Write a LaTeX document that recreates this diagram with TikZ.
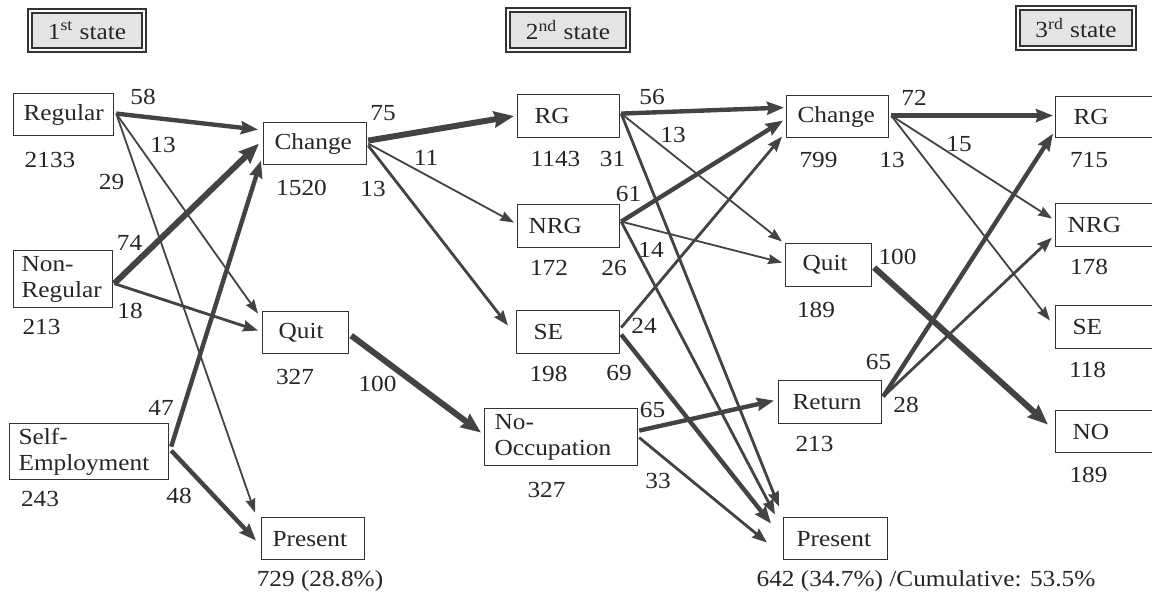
\documentclass[tikz,border=0pt]{standalone}
\usepackage{fontspec}
\setmainfont{Liberation Serif}[FakeStretch=1.1]
\usetikzlibrary{arrows.meta}
\definecolor{ln}{HTML}{434343}
\definecolor{bx}{HTML}{333333}
\definecolor{tfill}{HTML}{E4E4E4}
\begin{document}
\begin{tikzpicture}[x=0.5pt,y=-0.5pt,
 font=\fontsize{11.5}{13}\selectfont,
 box/.style={draw=bx, line width=0.6pt, anchor=north west, inner ysep=0pt, align=left, text=black!85},
 ttl/.style={draw=bx, line width=0.9pt, double=white, double distance=1pt, fill=tfill, inner sep=0pt, text=black!85},
 lbl/.style={inner sep=0pt, text=black!85},
 a1/.style={draw=ln, line width=0.9pt, -{Stealth[length=7pt,width=5pt,inset=0.8pt]}},
 a2/.style={draw=ln, line width=1.4pt, -{Stealth[length=7.5pt,width=5.5pt,inset=0.8pt]}},
 a3/.style={draw=ln, line width=2.2pt, -{Stealth[length=8.5pt,width=6.5pt,inset=1pt]}},
 a4/.style={draw=ln, line width=3pt, -{Stealth[length=10pt,width=8pt,inset=1pt]}},
]
\useasboundingbox (0,0) rectangle (1152,597);
\clip (0,0) rectangle (1152,597);
\fill[white] (0,0) rectangle (1152,597);

% titles
\node[ttl, minimum width=57pt, minimum height=19.7pt] (t1) at (87,30.5) {1\textsuperscript{st} state};
\node[ttl, minimum width=60.2pt, minimum height=20.2pt] (t2) at (568,30) {2\textsuperscript{nd} state};
\node[ttl, minimum width=58.2pt, minimum height=20.2pt] (t3) at (1076,28) {3\textsuperscript{rd} state};

% boxes
\node[box, text width=40pt, inner xsep=5pt, minimum height=21pt] (reg) at (13,93) {Regular};
\node[box, text width=41.5pt, inner xsep=4pt, minimum height=28.5pt] (nreg) at (13,250) {Non-\\Regular};
\node[box, text width=70.5pt, inner xsep=4.5pt, minimum height=28pt] (sem) at (9,423) {Self-\\Employment};
\node[box, text width=40.5pt, inner xsep=5.5pt, minimum height=21pt] (chg1) at (263,122) {Change};
\node[box, text width=27pt, inner xsep=8pt, minimum height=21pt] (quit1) at (262,311) {Quit};
\node[box, text width=40.5pt, inner xsep=5.5pt, minimum height=21pt] (pres1) at (261,517) {Present};
\node[box, text width=34pt, inner xsep=8.5pt, minimum height=21.5pt] (rg2) at (517,94) {RG};
\node[box, text width=40pt, inner xsep=5.5pt, minimum height=21.5pt] (nrg2) at (517,204) {NRG};
\node[box, text width=34.5pt, inner xsep=8.5pt, minimum height=21.5pt] (se2) at (516,310) {SE};
\node[box, text width=66.5pt, inner xsep=5pt, minimum height=28.5pt] (noocc) at (484,408) {No-\\Occupation};
\node[box, text width=40pt, inner xsep=5.5pt, minimum height=21pt] (chg2) at (786,95) {Change};
\node[box, text width=26pt, inner xsep=8.5pt, minimum height=21.5pt] (quit2) at (785,243) {Quit};
\node[box, text width=37.5pt, inner xsep=7pt, minimum height=21.5pt] (ret) at (778,380) {Return};
\node[box, text width=39pt, inner xsep=6.5pt, minimum height=21pt] (pres2) at (783,517) {Present};
\node[box, text width=37pt, inner xsep=9pt, minimum height=20.5pt] (rg3) at (1055,96) {RG};
\node[box, text width=43pt, inner xsep=6pt, minimum height=21.5pt] (nrg3) at (1055,203) {NRG};
\node[box, text width=38pt, inner xsep=8.5pt, minimum height=21.5pt] (se3) at (1055,305) {SE};
\node[box, text width=38pt, inner xsep=8.5pt, minimum height=21pt] (no3) at (1055,410) {NO};

% counts
\node[lbl] (c1) at (50,160) {2133};
\node[lbl] (c2) at (41.5,327.5) {213};
\node[lbl] (c3) at (40,499.5) {243};
\node[lbl] (c4) at (301.5,187.5) {1520};
\node[lbl] (c5) at (295,377.5) {327};
\node[lbl] (c6) at (320,581) {729 (28.8\%)};
\node[lbl] (c7) at (555.5,159.5) {1143};
\node[lbl] (c8) at (549,268) {172};
\node[lbl] (c9) at (548.5,373.5) {198};
\node[lbl] (c10) at (546.5,490) {327};
\node[lbl] (c11) at (818.5,160.5) {799};
\node[lbl] (c12) at (816,310) {189};
\node[lbl] (c13) at (814.5,444.5) {213};
\node[lbl] (c14) at (926,580.5) {642 (34.7\%) /Cumulative: 53.5\%};
\node[lbl] (c15) at (1089,160.5) {715};
\node[lbl] (c16) at (1089,266.5) {178};
\node[lbl] (c17) at (1087.5,369.5) {118};
\node[lbl] (c18) at (1088.5,475) {189};

% percentages
\node[lbl] (p58) at (143,97) {58};
\node[lbl] (p13a) at (163,145.5) {13};
\node[lbl] (p29) at (111.5,182.5) {29};
\node[lbl] (p74) at (129.5,242.5) {74};
\node[lbl] (p18) at (130,310.5) {18};
\node[lbl] (p47) at (161,407.5) {47};
\node[lbl] (p48) at (179,495.5) {48};
\node[lbl] (p75) at (383,113.5) {75};
\node[lbl] (p11) at (426,157.5) {11};
\node[lbl] (p13b) at (373,189.5) {13};
\node[lbl] (p100a) at (377.5,384) {100};
\node[lbl] (p56) at (652,97.5) {56};
\node[lbl] (p13c) at (673,135.5) {13};
\node[lbl] (p31) at (612.5,159.5) {31};
\node[lbl] (p61) at (628.5,194) {61};
\node[lbl] (p14) at (651,249.5) {14};
\node[lbl] (p26) at (614,268) {26};
\node[lbl] (p24) at (644,325.5) {24};
\node[lbl] (p69) at (619,373.5) {69};
\node[lbl] (p65a) at (652.5,410.5) {65};
\node[lbl] (p33) at (658,481.5) {33};
\node[lbl] (p72) at (914,97.5) {72};
\node[lbl] (p15) at (959,144.5) {15};
\node[lbl] (p13d) at (892,160.5) {13};
\node[lbl] (p100b) at (897.5,256.5) {100};
\node[lbl] (p65b) at (878.5,362.5) {65};
\node[lbl] (p28) at (906,404.5) {28};

% connectors: state 1 -> 2
\draw[a3] ([shift={(2,-1)}]reg.east) -- ([shift={(-5,-14)}]chg1.west);
\draw[a1] ([shift={(2,-1)}]reg.east) -- ([shift={(-4,-19)}]quit1.west);
\draw[a1] ([shift={(2,-1)}]reg.east) -- ([shift={(-6,-26)}]pres1.west);
\draw[a4] ([shift={(1,4.5)}]nreg.east) -- ([shift={(-4,0)}]chg1.west);
\draw[a2] ([shift={(1,4.5)}]nreg.east) -- ([shift={(-4,-2)}]quit1.west);
\draw[a3] ([shift={(2,-5)}]sem.east) -- ([shift={(-2,17)}]chg1.west);
\draw[a3] ([shift={(2,-1)}]sem.east) -- ([shift={(-5,2)}]pres1.west);
\draw[a4] ([shift={(1,-3)}]chg1.east) -- ([shift={(-3,0)}]rg2.west);
\draw[a1] ([shift={(1,0)}]chg1.east) -- ([shift={(-3,-3.5)}]nrg2.west);
\draw[a2] ([shift={(1,2)}]chg1.east) -- ([shift={(-8,-6.5)}]se2.west);
\draw[a4] ([shift={(2,3)}]quit1.east) -- ([shift={(-3,-4.5)}]noocc.west);

% state 2 -> 3
\draw[a3] ([shift={(1,-2.5)}]rg2.east) -- ([shift={(-2,-9)}]chg2.west);
\draw[a1] ([shift={(1,-2.5)}]rg2.east) -- ([shift={(-3,-23.5)}]quit2.west);
\draw[a2] ([shift={(1,-2.5)}]rg2.east) -- ([shift={(-4,-32)}]pres2.west);
\draw[a3] ([shift={(1,-4.5)}]nrg2.east) -- ([shift={(-3,4)}]chg2.west);
\draw[a1] ([shift={(1,-4.5)}]nrg2.east) -- ([shift={(-3,-2.5)}]quit2.west);
\draw[a2] ([shift={(1,-4.5)}]nrg2.east) -- ([shift={(-8,-24)}]pres2.west);
\draw[a2] ([shift={(1,-4.5)}]se2.east) -- ([shift={(-4,20)}]chg2.west);
\draw[a3] ([shift={(1,2.5)}]se2.east) -- ([shift={(-12,-15)}]pres2.west);
\draw[a3] ([shift={(1,-6.5)}]noocc.east) -- ([shift={(-4,-1.5)}]ret.west);
\draw[a2] ([shift={(1,0.5)}]noocc.east) -- ([shift={(-16,4)}]pres2.west);

% state 3 -> 4
\draw[a3] ([shift={(2,-1)}]chg2.east) -- ([shift={(-2,-1.5)}]rg3.west);
\draw[a1] ([shift={(2,-1)}]chg2.east) -- ([shift={(-3,-6.5)}]nrg3.west);
\draw[a1] ([shift={(2,-1)}]chg2.east) -- ([shift={(-5,-6.5)}]se3.west);
\draw[a4] ([shift={(2,2.5)}]quit2.east) -- ([shift={(-7,-7)}]no3.west);
\draw[a3] ([shift={(1,-5.5)}]ret.east) -- ([shift={(-2,16.5)}]rg3.west);
\draw[a2] ([shift={(1,-5.5)}]ret.east) -- ([shift={(-3,12.5)}]nrg3.west);
\end{tikzpicture}
\end{document}
